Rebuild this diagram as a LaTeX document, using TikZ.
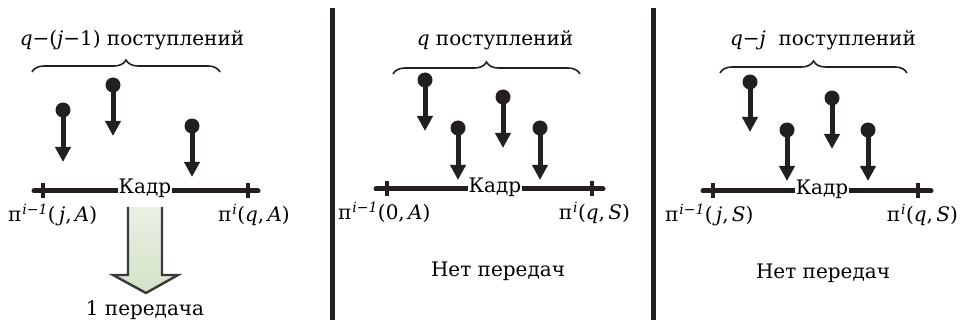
\documentclass[tikz,border=0pt]{standalone}
\usepackage{fontspec}
\setmainfont{DejaVu Serif}
\usepackage{tikz}
\usetikzlibrary{arrows.meta,positioning,decorations.pathreplacing}
\definecolor{ink}{HTML}{231F20}
\definecolor{sage}{HTML}{D3E1C7}
\definecolor{sageedge}{HTML}{3A3A3A}
\newcommand{\bigfont}{\fontsize{20}{23}\selectfont}
\newcommand{\vr}[1]{\textit{#1}}
\newcommand{\ppi}[1]{π\kern1pt\textsuperscript{\itshape #1}}

\begin{document}
\begin{tikzpicture}[
  x=1pt,y=-1pt,
  font=\bigfont,
  src/.style={circle,fill=ink,minimum size=15pt,inner sep=0pt,
    path picture={\fill[black] (path picture bounding box.center) circle (2pt);}},
  arr/.style={-{Triangle[width=15pt,length=15pt]},line width=5pt,draw=ink,shorten <=-2pt},
  axis/.style={line width=5pt,draw=ink,line cap=round},
  tick/.style={rectangle,fill=ink,minimum width=4pt,minimum height=15pt,inner sep=0pt},
  kadr/.style={fill=white,inner sep=1pt},
  brc/.style={decorate,decoration={brace,amplitude=12pt},line width=1.6pt,draw=ink},
  divider/.style={line width=5pt,draw=ink},
  lab/.style={inner sep=0pt}
]
\useasboundingbox (0,0) rectangle (961,323);

% --- left panel: frame with one transmission
\node (t1) at (132,40) {\vr{q}−(\vr{j}−1) поступлений};
\coordinate (b1l) at (32,72);
\coordinate (b1r) at (220,72);
\draw[brc] (b1l) -- (b1r);
\node[src] (s11) at (63,110) {};
\coordinate (e11) at (63,162);
\node[src] (s12) at (113,85) {};
\coordinate (e12) at (113,136);
\node[src] (s13) at (192,126) {};
\coordinate (e13) at (192,177);
\draw[arr] (s11.center) -- (e11);
\draw[arr] (s12.center) -- (e12);
\draw[arr] (s13.center) -- (e13);
\coordinate (l1) at (34,191);
\coordinate (r1) at (258,191);
\draw[axis] (l1) -- (r1);
\node[tick] (k1a) at (43,191) {};
\node[tick] (k1b) at (248,191) {};
\node[kadr] (f1) at (145,188) {Кадр};
\node[lab,anchor=base west] (p1a) at (8,222) {\ppi{i−1}(\,\vr{j},\,\vr{A})};
\node[lab,anchor=base east] (p1b) at (290,222) {\ppi{i}(\vr{q},\,\vr{A})};
\shade[top color=sage!45,bottom color=sage]
  (128,207) -- (128,275) -- (113,275) -- (146,293) -- (178,275) -- (162,275) -- (162,207) -- cycle;
\draw[sageedge,line width=2.4pt,line join=miter]
  (128,207) -- (128,275) -- (113,275) -- (146,293) -- (178,275) -- (162,275) -- (162,207);
\node (o1) at (145,310) {1 передача};

% --- middle panel: no transmission
\draw[divider] (332,8) -- (332,320);
\node (t2) at (495,40) {\vr{q} поступлений};
\coordinate (b2l) at (393,74);
\coordinate (b2r) at (580,74);
\draw[brc] (b2l) -- (b2r);
\node[src] (s21) at (425,80) {};
\coordinate (e21) at (425,131);
\node[src] (s22) at (458,128) {};
\coordinate (e22) at (458,180);
\node[src] (s23) at (503,97) {};
\coordinate (e23) at (503,148);
\node[src] (s24) at (540,128) {};
\coordinate (e24) at (540,180);
\draw[arr] (s21.center) -- (e21);
\draw[arr] (s22.center) -- (e22);
\draw[arr] (s23.center) -- (e23);
\draw[arr] (s24.center) -- (e24);
\coordinate (l2) at (376,189);
\coordinate (r2) at (603,189);
\draw[axis] (l2) -- (r2);
\node[tick] (k2a) at (387,189) {};
\node[tick] (k2b) at (592,189) {};
\node[kadr] (f2) at (495,187) {Кадр};
\node[lab,anchor=base west] (p2a) at (338,220) {\ppi{i−1}(0,\,\vr{A})};
\node[lab,anchor=base east] (p2b) at (630,220) {\ppi{i}(\vr{q},\,\vr{S})};
\node (o2) at (498,271) {Нет передач};

% --- right panel: no transmission
\draw[divider] (653,8) -- (653,320);
\node (t3) at (823,40) {\vr{q}−\vr{j}\ \ поступлений};
\coordinate (b3l) at (720,73);
\coordinate (b3r) at (907,73);
\draw[brc] (b3l) -- (b3r);
\node[src] (s31) at (750,82) {};
\coordinate (e31) at (750,132);
\node[src] (s32) at (787,130) {};
\coordinate (e32) at (787,181);
\node[src] (s33) at (832,98) {};
\coordinate (e33) at (832,149);
\node[src] (s34) at (868,130) {};
\coordinate (e34) at (868,181);
\draw[arr] (s31.center) -- (e31);
\draw[arr] (s32.center) -- (e32);
\draw[arr] (s33.center) -- (e33);
\draw[arr] (s34.center) -- (e34);
\coordinate (l3) at (703,191);
\coordinate (r3) at (931,191);
\draw[axis] (l3) -- (r3);
\node[tick] (k3a) at (713,191) {};
\node[tick] (k3b) at (918,191) {};
\node[kadr] (f3) at (822,189) {Кадр};
\node[lab,anchor=base west] (p3a) at (665,222) {\ppi{i−1}(\,\vr{j},\,\vr{S})};
\node[lab,anchor=base east] (p3b) at (958,222) {\ppi{i}(\vr{q},\,\vr{S})};
\node (o3) at (823,273) {Нет передач};
\end{tikzpicture}
\end{document}
